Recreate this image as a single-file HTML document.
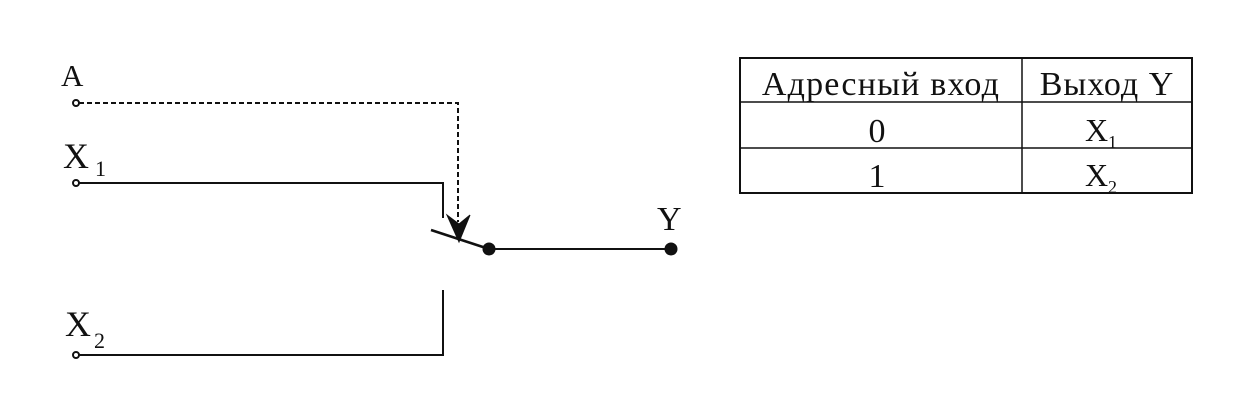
<!DOCTYPE html>
<html><head><meta charset="utf-8"><style>
body{margin:0;background:#fff;width:1258px;height:403px;overflow:hidden}
svg{display:block}
text{font-family:"Liberation Serif",serif;fill:#111}
</style></head><body>
<svg width="1258" height="403" viewBox="0 0 1258 403">
<g stroke="#111" fill="none">
<text x="61" y="86" font-size="31" stroke="none">A</text>
<circle cx="76" cy="103" r="3" stroke-width="2"/>
<path d="M79 103 H458 V222" stroke-width="2" stroke-dasharray="5,3"/>
<path d="M447 215 L459 242 L470 215 L459 224 Z" fill="#111" stroke-width="1"/>
<text x="63" y="168" font-size="36" stroke="none">X</text>
<text x="95" y="176" font-size="22" stroke="none">1</text>
<circle cx="76" cy="183" r="3" stroke-width="2"/>
<path d="M79 183 H443 V218" stroke-width="2"/>
<path d="M431 230 L489 249" stroke-width="2.5"/>
<circle cx="489" cy="249" r="6" fill="#111"/>
<path d="M489 249 H671" stroke-width="2"/>
<circle cx="671" cy="249" r="6" fill="#111"/>
<text x="657" y="230" font-size="34" stroke="none">Y</text>
<text x="65" y="336" font-size="36" stroke="none">X</text>
<text x="94" y="348" font-size="22" stroke="none">2</text>
<circle cx="76" cy="355" r="3" stroke-width="2"/>
<path d="M79 355 H443 V290" stroke-width="2"/>
<rect x="740" y="58" width="452" height="135" stroke-width="2"/>
<path d="M740 102 H1192 M740 148 H1192 M1022 58 V193" stroke-width="1.5"/>
</g>
<text x="881" y="95" font-size="34" letter-spacing="1.2" text-anchor="middle">Адресный  вход</text>
<text x="1107" y="95" font-size="34" letter-spacing="1" text-anchor="middle">Выход Y</text>
<text x="877" y="142" font-size="34" text-anchor="middle">0</text>
<text x="877" y="187" font-size="34" text-anchor="middle">1</text>
<text x="1085" y="141" font-size="32">X</text><text x="1108" y="148" font-size="18">1</text>
<text x="1085" y="186" font-size="32">X</text><text x="1108" y="193" font-size="18">2</text>
</svg>
</body></html>
